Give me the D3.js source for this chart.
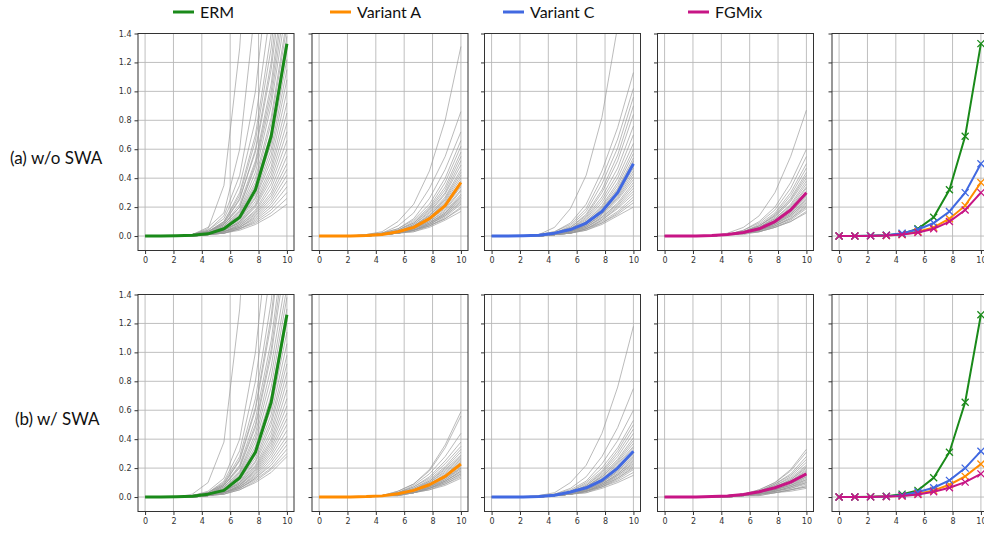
<!DOCTYPE html>
<meta charset="utf-8">
<style>
  body { margin: 0; background: #fff; }
  .tick text { font: 8px "DejaVu Sans", sans-serif; fill: #333; }
  .tick line { stroke: #333; }
  .axis path { display: none; }
  .grid line { stroke: #b8b8b8; stroke-width: 0.9; }
  .frame { fill: none; stroke: #333; stroke-width: 1; }
  .lab { font: 17px Lato, "Open Sans", sans-serif; fill: #111; }
  .leg { font: 16px Lato, "Open Sans", sans-serif; fill: #111; }
</style>
<svg width="984" height="533"></svg>
<script src="https://d3js.org/d3.v7.min.js"></script>
<script>

var steps = [0, 1.11, 2.22, 3.33, 4.44, 5.56, 6.67, 7.78, 8.89, 10];
var methods = ["ERM", "Variant A", "Variant C", "FGMix"];
var colors = ["#1a8a1a", "#ff8c00", "#4169e1", "#c71585"];
var rowLabels = ["(a) w/o SWA", "(b) w/ SWA"];
var xTicks = [0, 2, 4, 6, 8, 10];
var yTicks = [0, 0.2, 0.4, 0.6, 0.8, 1.0, 1.2, 1.4];

// mean curves, row (a) then row (b)
var meanA = [
  [0, 0, .002, .005, .015, .05, .13, .32, .69, 1.33],
  [0, 0, .001, .004, .01, .03, .06, .12, .21, .37],
  [0, 0, .002, .006, .02, .045, .09, .17, .30, .50],
  [0, 0, .001, .004, .01, .025, .05, .10, .18, .30]
];
var meanB = [
  [0, 0, .002, .005, .02, .046, .133, .31, .655, 1.26],
  [0, 0, .001, .003, .008, .023, .046, .085, .143, .228],
  [0, 0, .001, .004, .012, .035, .064, .115, .20, .317],
  [0, 0, .001, .003, .007, .018, .037, .064, .103, .16]
];

// individual runs (gray)
var runsErmA = [
  [0,0,0,.01,.05,.35,1.3,3,5,8],[0,0,0,.01,.06,.16,.6,1.6,3,5],[0,0,0,.01,.04,.14,.42,1.0,2.0,3.5],
  [0,0,0,.01,.04,.12,.35,.8,1.6,3],[0,0,0,.01,.03,.1,.3,.7,1.4,2.5],[0,0,0,.01,.03,.09,.25,.6,1.2,2.2],
  [0,0,0,.01,.03,.08,.22,.52,1.05,1.9],[0,0,0,.01,.03,.08,.2,.48,.95,1.7],[0,0,0,.01,.02,.07,.18,.44,.9,1.6],
  [0,0,0,.01,.02,.07,.17,.4,.82,1.5],[0,0,0,.01,.02,.06,.16,.37,.78,1.45],[0,0,0,0,.02,.06,.15,.35,.72,1.38],
  [0,0,0,0,.02,.06,.14,.33,.68,1.3],[0,0,0,0,.02,.05,.13,.31,.64,1.22],[0,0,0,0,.02,.05,.12,.29,.6,1.15],
  [0,0,0,0,.02,.05,.12,.27,.56,1.08],[0,0,0,0,.02,.05,.11,.26,.52,1.0],[0,0,0,0,.02,.04,.1,.24,.48,.92],
  [0,0,0,0,.01,.04,.1,.22,.45,.85],[0,0,0,0,.01,.04,.09,.21,.42,.78],[0,0,0,0,.01,.04,.09,.2,.39,.72],
  [0,0,0,0,.01,.03,.08,.18,.36,.66],[0,0,0,0,.01,.03,.08,.17,.33,.6],[0,0,0,0,.01,.03,.07,.16,.3,.55],
  [0,0,0,0,.01,.03,.07,.15,.28,.5],[0,0,0,0,.01,.03,.06,.14,.26,.46],[0,0,0,0,.01,.03,.06,.13,.24,.42],
  [0,0,0,0,.01,.02,.06,.12,.22,.38],[0,0,0,0,.01,.02,.05,.11,.2,.34],[0,0,0,0,.01,.02,.05,.1,.18,.3],
  [0,0,0,0,.01,.02,.05,.09,.16,.26],[0,0,0,0,.01,.02,.04,.08,.14,.22],[0,0,0,.01,.03,.1,.28,.66,1.3,2.4],
  [0,0,0,.01,.03,.09,.26,.58,1.15,2.0],[0,0,0,.01,.02,.08,.2,.5,1.0,1.8]
];
var runsVarAA = [
  [0,0,0,.01,.03,.1,.22,.45,.8,1.31],[0,0,0,.01,.02,.07,.16,.33,.55,.86],[0,0,0,.01,.02,.05,.12,.26,.46,.72],
  [0,0,0,0,.02,.05,.11,.22,.4,.66],[0,0,0,0,.02,.04,.1,.2,.37,.62],[0,0,0,0,.01,.04,.09,.19,.34,.58],
  [0,0,0,0,.01,.04,.09,.18,.32,.55],[0,0,0,0,.01,.03,.08,.17,.3,.52],[0,0,0,0,.01,.03,.08,.16,.29,.49],
  [0,0,0,0,.01,.03,.07,.15,.27,.46],[0,0,0,0,.01,.03,.07,.14,.26,.44],[0,0,0,0,.01,.03,.07,.14,.25,.42],
  [0,0,0,0,.01,.03,.06,.13,.24,.4],[0,0,0,0,.01,.03,.06,.13,.23,.38],[0,0,0,0,.01,.02,.06,.12,.22,.37],
  [0,0,0,0,.01,.02,.06,.12,.21,.35],[0,0,0,0,.01,.02,.05,.11,.2,.34],[0,0,0,0,.01,.02,.05,.11,.19,.32],
  [0,0,0,0,.01,.02,.05,.1,.18,.31],[0,0,0,0,.01,.02,.05,.1,.17,.29],[0,0,0,0,.01,.02,.05,.09,.16,.28],
  [0,0,0,0,.01,.02,.04,.09,.16,.27],[0,0,0,0,.01,.02,.04,.09,.15,.26],[0,0,0,0,.01,.02,.04,.08,.15,.25],
  [0,0,0,0,.01,.02,.04,.08,.14,.24],[0,0,0,0,.01,.02,.04,.08,.14,.23],[0,0,0,0,.01,.02,.04,.07,.13,.22],
  [0,0,0,0,.01,.02,.04,.07,.12,.2],[0,0,0,0,.01,.02,.03,.07,.12,.19],[0,0,0,0,.01,.02,.03,.06,.11,.17]
];
var runsVarCA = [
  [0,0,0,.01,.06,.19,.42,.82,1.45,2.3],[0,0,0,.01,.03,.09,.22,.45,.75,1.13],[0,0,0,.01,.03,.08,.19,.4,.67,1.02],
  [0,0,0,.01,.02,.07,.17,.36,.61,.96],[0,0,0,.01,.02,.06,.15,.32,.56,.9],[0,0,0,0,.02,.06,.14,.3,.52,.84],
  [0,0,0,0,.02,.05,.13,.27,.47,.76],[0,0,0,0,.02,.05,.12,.25,.43,.7],[0,0,0,0,.02,.05,.11,.23,.4,.64],
  [0,0,0,0,.01,.04,.1,.21,.37,.6],[0,0,0,0,.01,.04,.1,.2,.35,.57],[0,0,0,0,.01,.04,.09,.19,.33,.54],
  [0,0,0,0,.01,.04,.09,.18,.32,.52],[0,0,0,0,.01,.03,.08,.17,.3,.49],[0,0,0,0,.01,.03,.08,.17,.29,.47],
  [0,0,0,0,.01,.03,.08,.16,.28,.45],[0,0,0,0,.01,.03,.07,.15,.27,.43],[0,0,0,0,.01,.03,.07,.15,.26,.41],
  [0,0,0,0,.01,.03,.07,.14,.25,.39],[0,0,0,0,.01,.03,.06,.13,.23,.37],[0,0,0,0,.01,.03,.06,.13,.22,.35],
  [0,0,0,0,.01,.02,.06,.12,.21,.33],[0,0,0,0,.01,.02,.05,.11,.2,.31],[0,0,0,0,.01,.02,.05,.11,.19,.29],
  [0,0,0,0,.01,.02,.05,.1,.17,.27],[0,0,0,0,.01,.02,.05,.09,.16,.25],[0,0,0,0,.01,.02,.04,.09,.15,.23],
  [0,0,0,0,.01,.02,.04,.08,.14,.2]
];
var runsFgA = [
  [0,0,0,0,.02,.06,.14,.3,.55,.87],[0,0,0,0,.01,.04,.1,.2,.37,.6],[0,0,0,0,.01,.04,.09,.18,.33,.55],
  [0,0,0,0,.01,.03,.08,.16,.3,.5],[0,0,0,0,.01,.03,.07,.15,.28,.47],[0,0,0,0,.01,.03,.07,.14,.26,.44],
  [0,0,0,0,.01,.03,.07,.14,.25,.42],[0,0,0,0,.01,.03,.06,.13,.24,.4],[0,0,0,0,.01,.02,.06,.12,.22,.38],
  [0,0,0,0,.01,.02,.06,.12,.21,.36],[0,0,0,0,.01,.02,.05,.11,.2,.34],[0,0,0,0,.01,.02,.05,.11,.19,.33],
  [0,0,0,0,.01,.02,.05,.1,.18,.31],[0,0,0,0,.01,.02,.05,.1,.18,.3],[0,0,0,0,.01,.02,.05,.1,.17,.29],
  [0,0,0,0,.01,.02,.04,.09,.16,.28],[0,0,0,0,.01,.02,.04,.09,.16,.27],[0,0,0,0,.01,.02,.04,.09,.15,.26],
  [0,0,0,0,.01,.02,.04,.08,.15,.25],[0,0,0,0,.01,.02,.04,.08,.14,.24],[0,0,0,0,.01,.02,.04,.08,.14,.23],
  [0,0,0,0,.01,.02,.04,.07,.13,.22],[0,0,0,0,.01,.02,.04,.07,.12,.21],[0,0,0,0,.01,.02,.03,.07,.12,.2],
  [0,0,0,0,.01,.02,.03,.06,.11,.19],[0,0,0,0,.01,.02,.03,.06,.1,.17],[0,0,0,0,.01,.01,.03,.06,.1,.16]
];
var runsErmB = [
  [0,0,0,.02,.1,.38,1.3,3,5,8],[0,0,0,.01,.04,.13,.4,1.0,2.0,3.5],[0,0,0,.01,.03,.11,.32,.8,1.6,2.8],
  [0,0,0,.01,.03,.1,.28,.68,1.35,2.4],[0,0,0,.01,.03,.09,.25,.6,1.2,2.1],[0,0,0,.01,.03,.08,.22,.54,1.08,1.9],
  [0,0,0,.01,.02,.08,.2,.48,.98,1.7],[0,0,0,.01,.02,.07,.18,.44,.9,1.55],[0,0,0,.01,.02,.07,.17,.41,.83,1.45],
  [0,0,0,0,.02,.06,.16,.38,.76,1.38],[0,0,0,0,.02,.06,.15,.35,.7,1.3],[0,0,0,0,.02,.05,.14,.33,.65,1.22],
  [0,0,0,0,.02,.05,.13,.31,.61,1.14],[0,0,0,0,.02,.05,.12,.29,.57,1.06],[0,0,0,0,.02,.05,.12,.27,.53,.98],
  [0,0,0,0,.01,.04,.11,.25,.5,.92],[0,0,0,0,.01,.04,.1,.24,.46,.86],[0,0,0,0,.01,.04,.1,.22,.43,.8],
  [0,0,0,0,.01,.04,.09,.21,.4,.74],[0,0,0,0,.01,.04,.09,.2,.38,.68],[0,0,0,0,.01,.03,.08,.19,.36,.63],
  [0,0,0,0,.01,.03,.08,.18,.34,.58],[0,0,0,0,.01,.03,.08,.17,.32,.54],[0,0,0,0,.01,.03,.07,.16,.3,.5],
  [0,0,0,0,.01,.03,.07,.15,.28,.46],[0,0,0,0,.01,.03,.07,.14,.26,.42],[0,0,0,0,.01,.03,.06,.13,.24,.39],
  [0,0,0,0,.01,.03,.06,.13,.22,.36],[0,0,0,0,.01,.02,.06,.12,.2,.33],[0,0,0,0,.01,.02,.05,.11,.19,.3],
  [0,0,0,0,.01,.02,.05,.1,.17,.28],[0,0,0,.01,.03,.09,.26,.62,1.25,2.2],[0,0,0,.01,.02,.08,.21,.5,1.02,1.8]
];
var runsVarAB = [
  [0,0,0,0,.01,.04,.09,.19,.36,.59],[0,0,0,0,.01,.04,.09,.18,.34,.56],[0,0,0,0,.01,.03,.08,.16,.28,.44],
  [0,0,0,0,.01,.03,.07,.14,.25,.38],[0,0,0,0,.01,.03,.07,.13,.23,.35],[0,0,0,0,.01,.03,.06,.12,.21,.33],
  [0,0,0,0,.01,.02,.06,.11,.2,.31],[0,0,0,0,.01,.02,.05,.11,.19,.29],[0,0,0,0,.01,.02,.05,.1,.18,.28],
  [0,0,0,0,.01,.02,.05,.1,.17,.27],[0,0,0,0,.01,.02,.05,.09,.16,.26],[0,0,0,0,.01,.02,.04,.09,.15,.25],
  [0,0,0,0,.01,.02,.04,.09,.15,.24],[0,0,0,0,.01,.02,.04,.08,.14,.23],[0,0,0,0,.01,.02,.04,.08,.14,.22],
  [0,0,0,0,.01,.02,.04,.08,.13,.21],[0,0,0,0,.01,.02,.04,.07,.13,.2],[0,0,0,0,.01,.02,.04,.07,.12,.2],
  [0,0,0,0,.01,.02,.03,.07,.12,.19],[0,0,0,0,.01,.02,.03,.07,.11,.18],[0,0,0,0,.01,.02,.03,.06,.11,.18],
  [0,0,0,0,.01,.02,.03,.06,.11,.17],[0,0,0,0,.01,.02,.03,.06,.1,.16],[0,0,0,0,.01,.01,.03,.06,.1,.16],
  [0,0,0,0,.01,.01,.03,.06,.09,.15],[0,0,0,0,.01,.01,.03,.05,.09,.14],[0,0,0,0,.01,.01,.03,.05,.08,.13]
];
var runsVarCB = [
  [0,0,0,.01,.03,.1,.22,.44,.76,1.18],[0,0,0,.01,.02,.06,.14,.28,.48,.75],[0,0,0,0,.02,.05,.11,.23,.39,.6],
  [0,0,0,0,.01,.04,.1,.2,.34,.53],[0,0,0,0,.01,.04,.09,.18,.32,.5],[0,0,0,0,.01,.03,.08,.17,.3,.47],
  [0,0,0,0,.01,.03,.08,.16,.28,.44],[0,0,0,0,.01,.03,.07,.15,.26,.41],[0,0,0,0,.01,.03,.07,.14,.25,.39],
  [0,0,0,0,.01,.03,.07,.14,.24,.37],[0,0,0,0,.01,.03,.06,.13,.23,.35],[0,0,0,0,.01,.03,.06,.12,.22,.34],
  [0,0,0,0,.01,.02,.06,.12,.21,.32],[0,0,0,0,.01,.02,.06,.11,.2,.31],[0,0,0,0,.01,.02,.05,.11,.19,.3],
  [0,0,0,0,.01,.02,.05,.1,.18,.29],[0,0,0,0,.01,.02,.05,.1,.18,.28],[0,0,0,0,.01,.02,.05,.1,.17,.27],
  [0,0,0,0,.01,.02,.05,.09,.16,.26],[0,0,0,0,.01,.02,.04,.09,.16,.25],[0,0,0,0,.01,.02,.04,.09,.15,.24],
  [0,0,0,0,.01,.02,.04,.08,.15,.23],[0,0,0,0,.01,.02,.04,.08,.14,.22],[0,0,0,0,.01,.02,.04,.08,.13,.21],
  [0,0,0,0,.01,.02,.04,.07,.13,.2],[0,0,0,0,.01,.02,.04,.07,.12,.19],[0,0,0,0,.01,.02,.03,.07,.11,.17],
  [0,0,0,0,.01,.02,.03,.06,.1,.15]
];
var runsFgB = [
  [0,0,0,0,.01,.02,.05,.1,.19,.33],[0,0,0,0,.01,.02,.05,.1,.18,.31],[0,0,0,0,.01,.02,.04,.09,.16,.28],
  [0,0,0,0,.01,.02,.04,.09,.15,.26],[0,0,0,0,.01,.02,.04,.08,.14,.24],[0,0,0,0,.01,.02,.04,.08,.13,.22],
  [0,0,0,0,.01,.02,.04,.07,.12,.21],[0,0,0,0,.01,.02,.03,.07,.12,.2],[0,0,0,0,.01,.02,.03,.07,.11,.19],
  [0,0,0,0,.01,.02,.03,.06,.11,.18],[0,0,0,0,.01,.02,.03,.06,.1,.17],[0,0,0,0,.01,.01,.03,.06,.1,.16],
  [0,0,0,0,.01,.01,.03,.05,.09,.15],[0,0,0,0,.01,.01,.03,.05,.09,.14],[0,0,0,0,.01,.01,.03,.05,.08,.14],
  [0,0,0,0,.01,.01,.03,.05,.08,.13],[0,0,0,0,0,.01,.02,.05,.08,.12],[0,0,0,0,0,.01,.02,.04,.07,.12],
  [0,0,0,0,0,.01,.02,.04,.07,.11],[0,0,0,0,0,.01,.02,.04,.07,.1],[0,0,0,0,0,.01,.02,.04,.06,.1],
  [0,0,0,0,0,.01,.02,.04,.06,.09],[0,0,0,0,0,.01,.02,.03,.05,.08],[0,0,0,0,0,.01,.02,.03,.05,.07],
  [0,0,0,0,0,.01,.01,.03,.05,.07],[0,0,0,0,0,.01,.01,.03,.04,.06]
];

var rows = [
  { label: rowLabels[0], mean: meanA, runs: [runsErmA, runsVarAA, runsVarCA, runsFgA] },
  { label: rowLabels[1], mean: meanB, runs: [runsErmB, runsVarAB, runsVarCB, runsFgB] }
];

var svg = d3.select("svg");
var panelLeft = [138, 312, 484.5, 657.5, 832];
var rowTop = [33.5, 294.5];
var pw = 156, ph = 217;

var x = d3.scaleLinear().domain([-0.5, 10.5]).range([0, pw]);
var y = d3.scaleLinear().domain([-0.1, 1.4]).range([ph, 0]);
var line = d3.line().x(function(d, i) { return x(steps[i]); }).y(function(d) { return y(d); });

// legend
var legX = [173, 330, 503, 688];
methods.forEach(function(m, i) {
  var lg = svg.append("g").attr("transform", "translate(" + legX[i] + ",12)");
  lg.append("line").attr("x1", 0).attr("x2", 21).attr("stroke", colors[i]).attr("stroke-width", 3);
  lg.append("text").attr("class", "leg").attr("x", 27).attr("y", 5.5).text(m);
});

rows.forEach(function(row, r) {
  svg.append("text").attr("class", "lab")
    .attr("x", r == 0 ? 10 : 15).attr("y", rowTop[r] + 130)
    .text(row.label);

  for (var p = 0; p < 5; p++) {
    var g = svg.append("g").attr("transform", "translate(" + panelLeft[p] + "," + rowTop[r] + ")");
    var cid = "clip" + r + "_" + p;
    g.append("clipPath").attr("id", cid).append("rect").attr("width", pw).attr("height", ph);

    // grid
    var grid = g.append("g").attr("class", "grid");
    grid.selectAll(".gx").data(xTicks).enter().append("line")
      .attr("x1", x).attr("x2", x).attr("y1", 0).attr("y2", ph);
    grid.selectAll(".gy").data(yTicks).enter().append("line")
      .attr("y1", y).attr("y2", y).attr("x1", 0).attr("x2", pw);

    var plot = g.append("g").attr("clip-path", "url(#" + cid + ")");
    if (p < 4) {
      plot.selectAll(".run").data(row.runs[p]).enter().append("path")
        .attr("d", line).attr("fill", "none")
        .attr("stroke", "#9a9a9a").attr("stroke-width", 0.8).attr("stroke-opacity", 0.85);
      plot.append("path").datum(row.mean[p]).attr("d", line).attr("fill", "none")
        .attr("stroke", colors[p]).attr("stroke-width", 3).attr("stroke-linejoin", "round");
    } else {
      row.mean.forEach(function(mv, k) {
        plot.append("path").datum(mv).attr("d", line).attr("fill", "none")
          .attr("stroke", colors[k]).attr("stroke-width", 2);
        var mk = plot.selectAll(".mk" + k).data(mv).enter().append("path")
          .attr("transform", function(d, i) { return "translate(" + x(steps[i]) + "," + y(d) + ")"; })
          .attr("d", "M-3.5,-3.5L3.5,3.5M-3.5,3.5L3.5,-3.5")
          .attr("stroke", colors[k]).attr("stroke-width", 1.3);
      });
    }

    g.append("g").attr("class", "axis").attr("transform", "translate(0," + ph + ")")
      .call(d3.axisBottom(x).tickValues(xTicks).tickSize(3.5).tickPadding(3));
    g.append("g").attr("class", "axis")
      .call(d3.axisLeft(y).tickValues(yTicks).tickSize(3.5).tickPadding(3)
        .tickFormat(p == 0 ? d3.format(".1f") : function() { return ""; }));
    g.append("rect").attr("class", "frame").attr("width", pw).attr("height", ph);
  }
});

</script>
